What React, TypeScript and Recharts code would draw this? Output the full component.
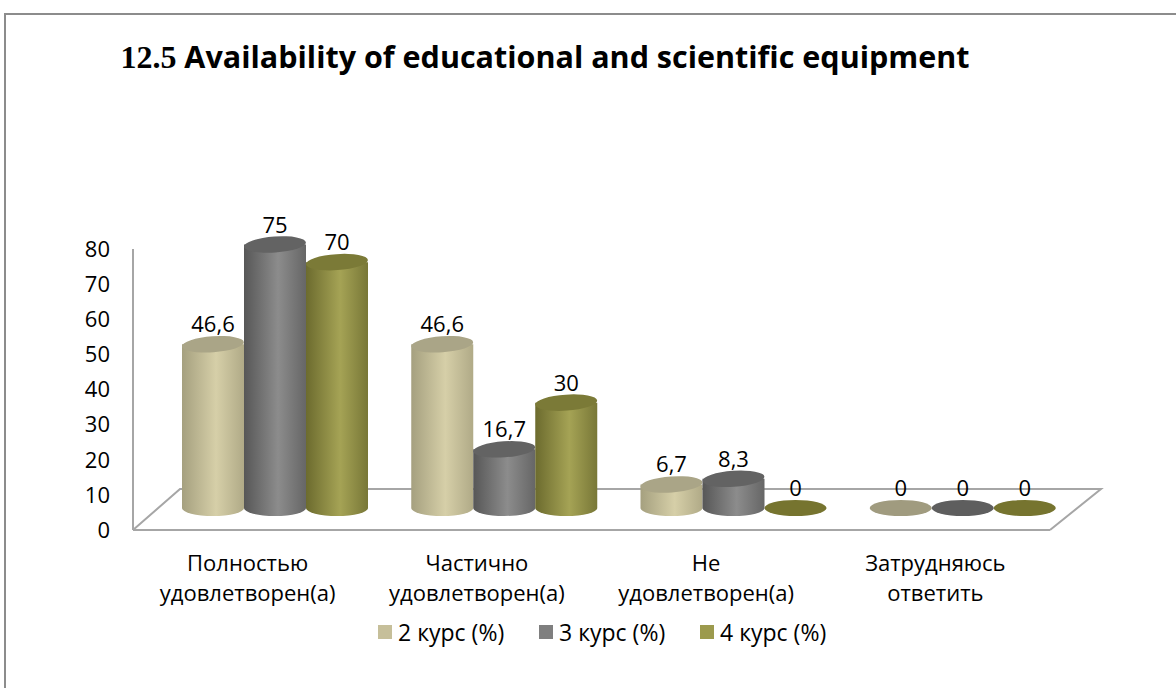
import React from 'react'
import { BarChart, Bar, XAxis, YAxis, LabelList, usePlotArea } from 'recharts'

const categories = [
  ['Полностью', 'удовлетворен(а)'],
  ['Частично', 'удовлетворен(а)'],
  ['Не', 'удовлетворен(а)'],
  ['Затрудняюсь', 'ответить'],
]
const kurs2 = [46.6, 46.6, 6.7, 0]
const kurs3 = [75, 16.7, 8.3, 0]
const kurs4 = [70, 30, 0, 0]
const yTicks = [0, 10, 20, 30, 40, 50, 60, 70, 80]

const data = categories.map((c, i) => ({ name: c.join(' '), lines: c, k2: kurs2[i], k3: kurs3[i], k4: kurs4[i] }))

const FONT = '"Open Sans", "Noto Sans", sans-serif'
// depth shift of the bars (they stand in the middle of the floor)
const DX = 27
const DY = 22
const RY = 8

const SERIES = [
  { key: 'k2', name: '2 курс (%)', grad: 'g2', legend: '#c6bf9a', top: '#aaa587', zero: '#a09b7f' },
  { key: 'k3', name: '3 курс (%)', grad: 'g3', legend: '#7f7f7f', top: '#636363', zero: '#5e5e5e' },
  { key: 'k4', name: '4 курс (%)', grad: 'g4', legend: '#9c9a4d', top: '#7b7a37', zero: '#76742f' },
]

function makeCylinder(s: typeof SERIES[number]) {
  return (props: any) => {
    const { x, y, width, height } = props
    const cx = x + width / 2 + DX
    const rx = width / 2
    const top = y - DY
    const base = y + height - DY
    if (!height || height < 1) {
      return <ellipse cx={cx} cy={base} rx={rx} ry={RY} fill={s.zero} />
    }
    const l = cx - rx
    const r = cx + rx
    return (
      <g>
        <path d={`M${l},${top} L${l},${base} A${rx},${RY} 0 0 0 ${r},${base} L${r},${top} Z`} fill={`url(#${s.grad})`} />
        <ellipse cx={cx} cy={top} rx={rx} ry={RY} fill={s.top} transform={`rotate(-4 ${cx} ${top})`} />
      </g>
    )
  }
}

function valueLabel(props: any) {
  const { x, y, width, value } = props
  const cx = x + width / 2 + DX
  return (
    <text x={cx} y={y - DY - 12} textAnchor="middle" fontFamily={FONT} fontSize={22} fill="#000">
      {String(value).replace('.', ',')}
    </text>
  )
}

function Floor() {
  const area = usePlotArea()
  if (!area) return null
  const bottom = area.y + area.height
  const right = area.x + area.width
  return (
    <polyline
      points={`${area.x},${bottom} ${area.x + 47},${bottom - 41} ${right + 51},${bottom - 41} ${right},${bottom}`}
      fill="none"
      stroke="#a6a6a6"
      strokeWidth={2}
    />
  )
}

function CategoryTick(props: any) {
  const { x, y, payload } = props
  const lines: string[] = data[payload.index]?.lines ?? [payload.value]
  return (
    <text x={x} y={y} textAnchor="middle" fontFamily={FONT} fontSize={22} fill="#000">
      {lines.map((t, i) => (
        <tspan key={i} x={x} y={y + 33 + i * 30}>{t}</tspan>
      ))}
    </text>
  )
}

function Stops({ a, b, c }: { a: string; b: string; c: string }) {
  return (
    <>
      <stop offset="0%" stopColor={a} />
      <stop offset="55%" stopColor={b} />
      <stop offset="100%" stopColor={c} />
    </>
  )
}

export default function App() {
  return (
    <div style={{ position: 'absolute', left: 0, top: 0, width: 1176, height: 688, overflow: 'hidden', background: '#fff' }}>
      <div style={{ position: 'absolute', left: 4, top: 13, width: 1200, height: 720, border: '2px solid #8c8c8c' }} />
      <div style={{ position: 'absolute', left: 0, width: 1090, top: 34, textAlign: 'center', fontSize: 30.5, lineHeight: '44px', fontWeight: 700, fontFamily: FONT, color: '#000', whiteSpace: 'nowrap' }}>
        <span style={{ fontFamily: '"Liberation Serif", serif', fontSize: 32 }}>12.5</span> Availability of educational and scientific equipment
      </div>
      <div style={{ position: 'absolute', left: 0, top: 0 }}>
        <BarChart width={1176} height={688} data={data} margin={{ top: 249, right: 126, bottom: 88, left: 63 }} barSize={62} barGap={0}>
          <defs>
            <linearGradient id="g2" x1="0" y1="0" x2="1" y2="0">
              <Stops a="#a5a07f" b="#d6cfa8" c="#b0aa87" />
            </linearGradient>
            <linearGradient id="g3" x1="0" y1="0" x2="1" y2="0">
              <Stops a="#575757" b="#8c8c8c" c="#666666" />
            </linearGradient>
            <linearGradient id="g4" x1="0" y1="0" x2="1" y2="0">
              <Stops a="#6c6b2e" b="#a5a355" c="#787737" />
            </linearGradient>
          </defs>
          <Floor />
          <YAxis
            width={70}
            domain={[0, 80]}
            ticks={yTicks}
            interval={0}
            tickLine={false}
            tickMargin={17}
            axisLine={{ stroke: '#a6a6a6', strokeWidth: 2 }}
            tick={{ fontFamily: FONT, fontSize: 22, fill: '#000' }}
          />
          <XAxis
            dataKey="name"
            height={70}
            tickLine={false}
            axisLine={{ stroke: '#a6a6a6', strokeWidth: 2 }}
            tick={<CategoryTick />}
            interval={0}
          />
          {SERIES.map((s) => (
            <Bar key={s.key} dataKey={s.key} name={s.name} fill={s.legend} shape={makeCylinder(s)} isAnimationActive={false}>
              <LabelList dataKey={s.key} content={valueLabel} />
            </Bar>
          ))}
        </BarChart>
      </div>
      <div style={{ position: 'absolute', top: 616, left: 378, display: 'flex', fontFamily: FONT, fontSize: 23, color: '#000' }}>
        {SERIES.map((s) => (
          <div key={s.key} style={{ width: 161, display: 'flex', alignItems: 'center', whiteSpace: 'nowrap' }}>
            <span style={{ width: 14, height: 14, background: s.legend, marginRight: 6, display: 'inline-block', flexShrink: 0 }} />
            <span>{s.name}</span>
          </div>
        ))}
      </div>
    </div>
  )
}
